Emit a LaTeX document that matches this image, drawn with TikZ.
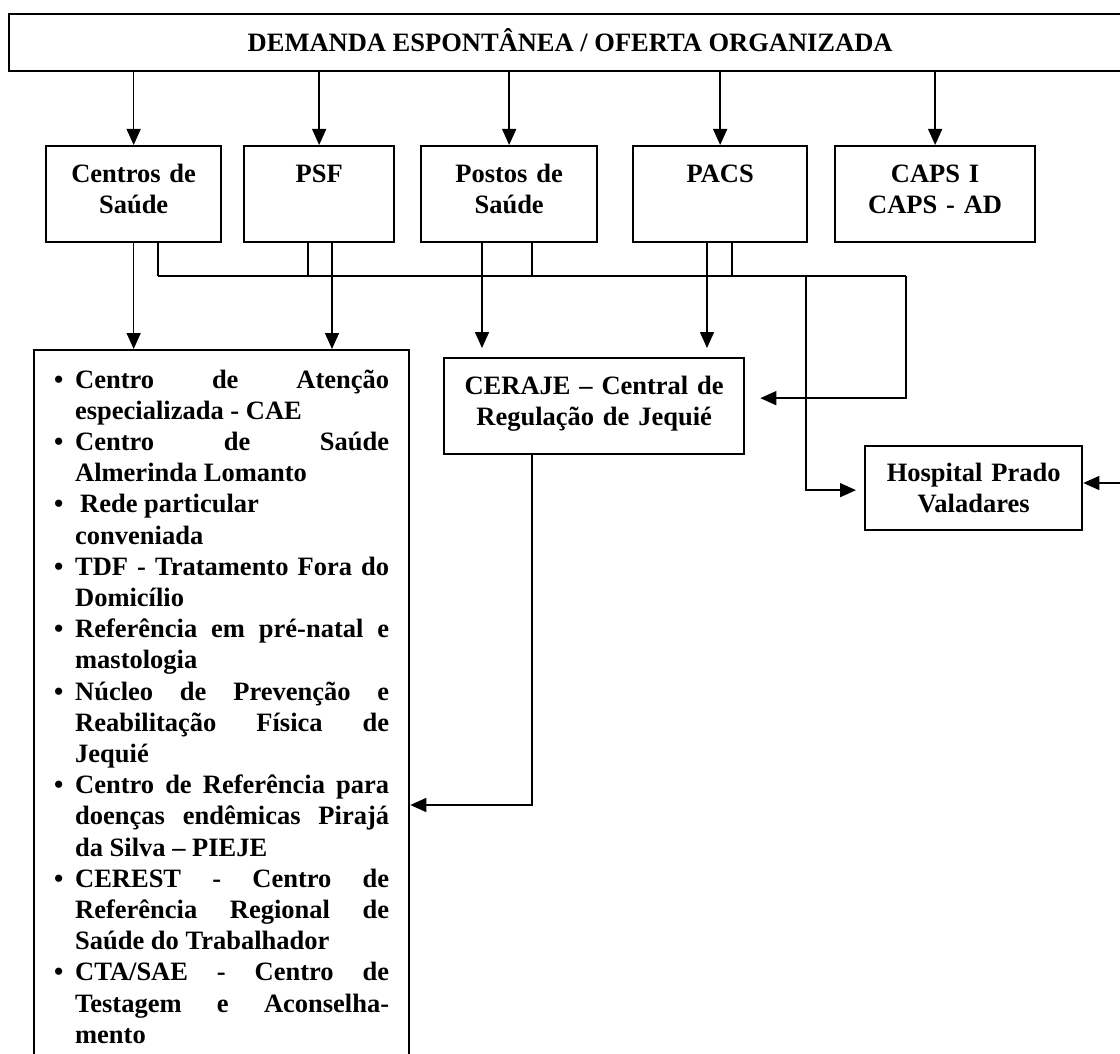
\documentclass[tikz,border=0pt]{standalone}
\usepackage{fontspec}
\setmainfont{Liberation Serif}
\usepackage{tikz}
\usetikzlibrary{calc,positioning,arrows.meta}
\tikzset{link/.style={line width=.75pt},flow/.style={link,-{Triangle[length=8pt,width=7pt]}}}
\newcommand{\bulletitem}[1]{\noindent\hangindent=10.5pt\hangafter=1\makebox[10.5pt][l]{\textbullet}#1\par}

\begin{document}
\begin{tikzpicture}[x=.5pt,y=-.5pt,font=\fontsize{13.25pt}{15.6pt}\selectfont\bfseries]

\tikzset{titlebox/.style={draw,line width=1.15pt,anchor=north west,inner sep=0pt,minimum width=561pt,text height=18.65pt,text depth=10pt},
unitbox/.style={draw,line width=1.15pt,anchor=north west,inner sep=0pt,align=center,text height=18.25pt,text depth=29.75pt},
regbox/.style={draw,line width=1.15pt,anchor=north west,inner sep=0pt,align=center},
listbox/.style={draw,line width=1.15pt,anchor=north west,inner xsep=10pt,inner ysep=0pt,align=justify,text width=167.5pt,text height=19pt,text depth=345pt}}

% Frame
\useasboundingbox (0,0) rectangle (1120,1054);
\clip (0,0) rectangle (1120,1054);

% Demand
\node[titlebox] (demanda) at (8,12.7) {DEMANDA ESPONTÂNEA / OFERTA ORGANIZADA};

% Units
\node[unitbox,text width=87.5pt] (centros) at (45,145) {Centros de\\Saúde};
\node[unitbox,text width=75pt] (psf) at (243,145) {PSF};
\node[unitbox,text width=88pt] (postos) at (420,145) {Postos de\\Saúde};
\node[unitbox,text width=87pt] (pacs) at (632,145) {PACS};
\node[unitbox,text width=100pt] (caps) at (834,145) {CAPS I\\CAPS - AD};
\foreach \n in {centros,psf,postos,pacs,caps} \draw[flow] (\n.north |- demanda.south) -- (\n.north);

% Regulation and hospital
\node[regbox,text width=150pt,text height=18pt,text depth=30pt] (ceraje) at (443,357) {CERAJE – Central de\\Regulação de Jequié};
\node[regbox,text width=108.5pt,text height=17.5pt,text depth=24.5pt] (hospital) at (864,445) {Hospital Prado\\Valadares};

% Specialised services
\node[listbox] (lista) at (33,349) {%
\bulletitem{Centro de Atenção\linebreak especializada - CAE}%
\bulletitem{Centro de Saúde\linebreak Almerinda Lomanto}%
\bulletitem{\hspace{2.5pt}Rede particular\newline conveniada}%
\bulletitem{TDF - Tratamento Fora do\linebreak Domicílio}%
\bulletitem{Referência em pré-natal e\linebreak mastologia}%
\bulletitem{Núcleo de Prevenção e\linebreak Reabilitação Física de\linebreak Jequié}%
\bulletitem{Centro de Referência para\linebreak doenças endêmicas Pirajá\linebreak da Silva – PIEJE}%
\bulletitem{CEREST - Centro de\linebreak Referência Regional de\linebreak Saúde do Trabalhador}%
\bulletitem{CTA/SAE - Centro de\linebreak Testagem e Aconselha-\linebreak mento}};

% Bus
\coordinate (busL) at (158,276);
\coordinate (busR) at (906,276);
\coordinate (hospTap) at (806,276);
\coordinate (edgeR) at (1125,483);
\draw[link] (busL) -- (busR);
\foreach \x/\n in {158/centros,308/psf,532/postos,732/pacs} \draw[link] (\x,0 |- \n.south) -- (\x,0 |- busL);

% Referrals
\draw[flow] (centros.south) -- (centros.south |- lista.north);
\draw[flow] (332,0 |- psf.south) -- (332,0 |- lista.north);
\draw[flow,shorten >=4.5pt] (482,0 |- postos.south) -- (482,0 |- ceraje.north);
\draw[flow,shorten >=4.5pt] (707,0 |- pacs.south) -- (707,0 |- ceraje.north);
\draw[flow,shorten >=7.5pt] (busR) |- ($(ceraje.east)+(0,-8)$);
\draw[flow,shorten >=4pt] (hospTap) |- ($(hospital.west)+(0,2)$);
\draw[flow] (edgeR) -- (edgeR -| hospital.east);
\draw[flow] (532,0 |- ceraje.south) |- (lista.east |- 0,805);

\end{tikzpicture}
\end{document}
